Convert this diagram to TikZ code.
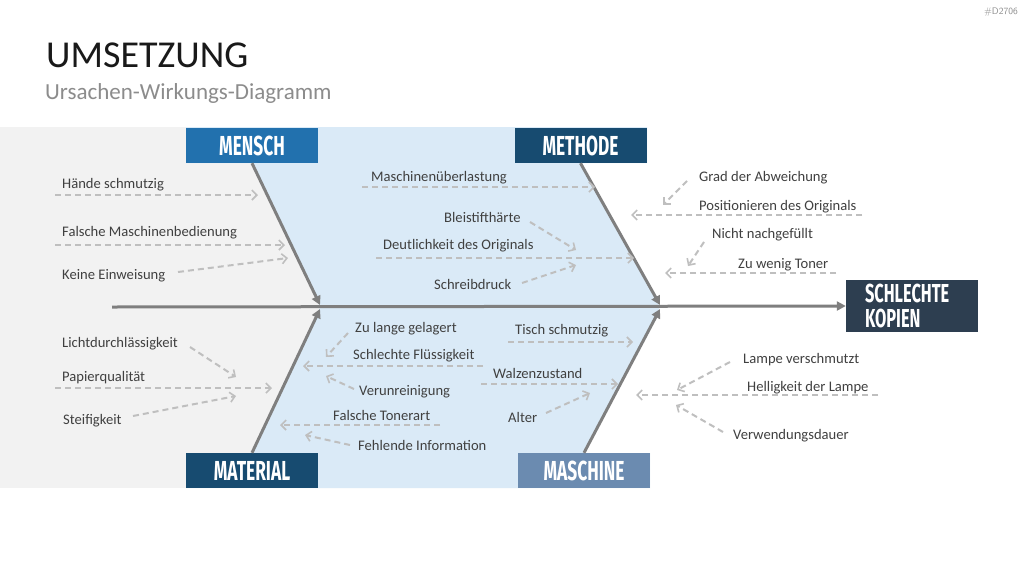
\documentclass[tikz,border=0pt]{standalone}
\usepackage{fontspec}
\setmainfont{Carlito}
\newfontfamily\headfont[FakeStretch=0.63]{Fira Sans}
\usetikzlibrary{arrows.meta}
\definecolor{bggray}{HTML}{F2F2F2}
\definecolor{bgblue}{HTML}{DAEAF7}
\definecolor{cmensch}{HTML}{2271AE}
\definecolor{cdark}{HTML}{174B70}
\definecolor{cmasch}{HTML}{6B8BB0}
\definecolor{ckop}{HTML}{2D3E50}
\definecolor{bone}{HTML}{7F7F7F}
\definecolor{cause}{HTML}{BFBFBF}
\definecolor{txt}{HTML}{404040}
\tikzset{
  hbox/.style={minimum width=132pt,minimum height=35pt,inner sep=0pt,text=white,
    font=\headfont\bfseries\fontsize{27.5}{27}\selectfont},
  lbl/.style={anchor=west,inner sep=0pt,text=txt,yshift=-1.5pt,font=\fontsize{14.6}{15}\selectfont},
  causearrow/.style={draw=cause,line width=2pt,dash pattern=on 6pt off 4pt,
    -{Straight Barb[length=5pt,width=10pt,line width=1.6pt]}},
  bonearrow/.style={draw=bone,line width=3pt,-{Triangle[length=9pt,width=9pt]}}
}
\begin{document}
\begin{tikzpicture}[x=1pt,y=-1pt]
\useasboundingbox (0,0) rectangle (1024,576);
\fill[white] (0,0) rectangle (1024,576);
% backgrounds
\fill[bggray] (0,127) rectangle (330,488);
\fill[bgblue] (186,127) -- (647,127) -- (647,163) -- (580,163) -- (660,307) -- (585,453)
  -- (650,453) -- (650,488) -- (186,488) -- (186,453) -- (252,453) -- (320,307)
  -- (252,163) -- (186,163) -- cycle;
% title
\node[anchor=west,inner sep=0pt,text=black!90,font=\fontsize{38}{39}\selectfont] (title) at (46,55) {UMSETZUNG};
\node[anchor=west,inner sep=0pt,text=black!45,font=\fontsize{23}{24}\selectfont] (subtitle) at (45,93) {Ursachen-Wirkungs-Diagramm};
\node[anchor=east,inner sep=0pt,text=black!45,font=\sffamily\fontsize{9.5}{10}\selectfont] (code) at (1018,12) {\#D2706};
% boxes
\node[hbox,fill=cmensch] (mensch) at (252,145.5) {MENSCH};
\node[hbox,fill=cdark] (methode) at (580.5,145.5) {METHODE};
\node[hbox,fill=cdark] (material) at (252,470.5) {MATERIAL};
\node[hbox,fill=cmasch] (maschine) at (584,470.5) {MASCHINE};
\node[fill=ckop,minimum width=132pt,minimum height=52pt,inner sep=0pt,text=white,
  align=left,text width=94pt,font=\headfont\bfseries\fontsize{26}{25}\selectfont] (kopien) at (912,306) {SCHLECHTE\\KOPIEN};
% spine and bones
\coordinate (spstart) at (112,307);
\coordinate (j1) at (320,305);
\coordinate (j2) at (660,305);
\coordinate (j3) at (320,309);
\coordinate (j4) at (660,309);
\draw[bonearrow] (spstart) -- (kopien.west);
\draw[bonearrow] (mensch.south) -- (j1);
\draw[bonearrow] (methode.south) -- (j2);
\draw[bonearrow] (material.north) -- (j3);
\draw[bonearrow] (maschine.north) -- (j4);
% MENSCH causes
\node[lbl] (t1) at (62,183) {Hände schmutzig};
\draw[causearrow] (55,195) -- (258,195);
\node[lbl] (t2) at (62,231) {Falsche Maschinenbedienung};
\draw[causearrow] (55,245) -- (285,245);
\node[lbl] (t3) at (62,274) {Keine Einweisung};
\draw[causearrow] (178,272) -- (288,258);
% METHODE causes
\node[lbl] (t4) at (371,176) {Maschinenüberlastung};
\draw[causearrow] (362,187) -- (595,187);
\node[lbl] (t5) at (444,216) {Bleistifthärte};
\draw[causearrow] (530,222) -- (576,250);
\node[lbl] (t6) at (383,244) {Deutlichkeit des Originals};
\draw[causearrow] (376,258) -- (634,258);
\node[lbl] (t7) at (434,283) {Schreibdruck};
\draw[causearrow] (522,283) -- (576,265);
% right top
\node[lbl] (t8) at (699,176) {Grad der Abweichung};
\draw[causearrow] (687,181) -- (663,205);
\node[lbl] (t9) at (699,205) {Positionieren des Originals};
\draw[causearrow] (862,215) -- (631,215);
\node[lbl] (t10) at (712,233) {Nicht nachgefüllt};
\draw[causearrow] (704,242) -- (688,266);
\node[lbl] (t11) at (738,263) {Zu wenig Toner};
\draw[causearrow] (836,273) -- (665,273);
% MATERIAL outside
\node[lbl] (t12) at (62,342) {Lichtdurchlässigkeit};
\draw[causearrow] (190,347) -- (236,377);
\node[lbl] (t13) at (62,376) {Papierqualität};
\draw[causearrow] (55,388) -- (272,388);
\node[lbl] (t14) at (63,419) {Steifigkeit};
\draw[causearrow] (133,416) -- (236,396);
% MATERIAL inside
\node[lbl] (t15) at (355,327) {Zu lange gelagert};
\draw[causearrow] (348,333) -- (326,357);
\node[lbl] (t16) at (353,354) {Schlechte Flüssigkeit};
\draw[causearrow] (483,366) -- (303,366);
\node[lbl] (t17) at (359,390) {Verunreinigung};
\draw[causearrow] (354,389) -- (326,376);
\node[lbl] (t18) at (333,414) {Falsche Tonerart};
\draw[causearrow] (440,425) -- (280,425);
\node[lbl] (t19) at (358,444) {Fehlende Information};
\draw[causearrow] (350,445) -- (305,435);
% MASCHINE inside
\node[lbl] (t20) at (515,329) {Tisch schmutzig};
\draw[causearrow] (508,342) -- (633,342);
\node[lbl] (t21) at (493,372) {Walzenzustand};
\draw[causearrow] (481,384) -- (618,384);
\node[lbl] (t22) at (508,416) {Alter};
\draw[causearrow] (546,413) -- (590,393);
% right bottom
\node[lbl] (t23) at (743,358) {Lampe verschmutzt};
\draw[causearrow] (730,362) -- (677,390);
\node[lbl] (t24) at (747,386) {Helligkeit der Lampe};
\draw[causearrow] (878,395) -- (636,395);
\node[lbl] (t25) at (733,434) {Verwendungsdauer};
\draw[causearrow] (723,432) -- (676,405);
\end{tikzpicture}
\end{document}
